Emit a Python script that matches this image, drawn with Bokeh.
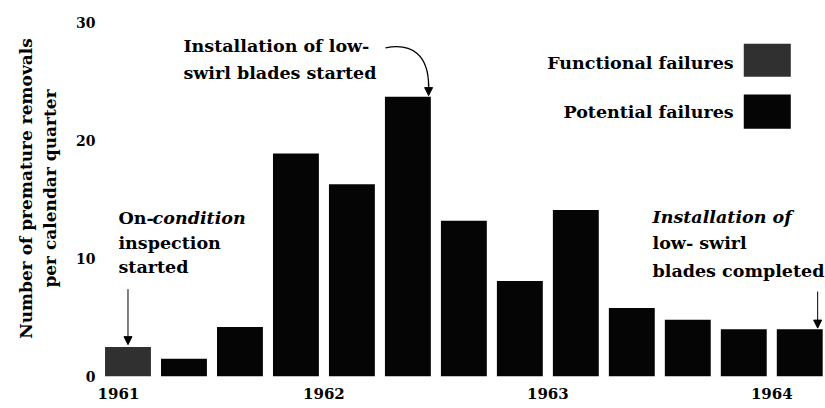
from bokeh.plotting import figure
from bokeh.models import FixedTicker, Range1d, Arrow, NormalHead
from bokeh.core.properties import value
from bokeh.embed import file_html
from bokeh.resources import INLINE

quarters = ["1961 Q1", "1961 Q2", "1961 Q3", "1961 Q4",
            "1962 Q1", "1962 Q2", "1962 Q3", "1962 Q4",
            "1963 Q1", "1963 Q2", "1963 Q3", "1963 Q4", "1964 Q1"]
functional = [2.5, 0, 0, 0, 0, 0, 0, 0, 0, 0, 0, 0, 0]
potential = [0, 1.5, 4.2, 18.9, 16.3, 23.7, 13.2, 8.1, 14.1, 5.8, 4.8, 4.0, 4.0]
year_labels = ["1961", "1962", "1963", "1964"]
year_ticks = [-0.17, 3.5, 7.5, 11.5]
y_ticks = [0, 10, 20, 30]

FONT = "DejaVu Serif"
idx = list(range(len(quarters)))
totals = [f + q for f, q in zip(functional, potential)]

p = figure(width=825, height=408, output_backend="svg", toolbar_location=None,
           x_range=Range1d(-0.491, 12.46), y_range=Range1d(0, 31.86),
           min_border_left=100, min_border_right=0, min_border_top=0, min_border_bottom=32)
p.outline_line_color = None
p.grid.grid_line_color = None
p.background_fill_color = "white"

p.vbar(x=idx, bottom=0, top=functional, width=0.82, fill_color="#303030", line_color=None)
p.vbar(x=idx, bottom=functional, top=totals, width=0.82, fill_color="#050505", line_color=None)

for ax in (p.xaxis[0], p.yaxis[0]):
    ax.axis_line_color = None
    ax.major_tick_line_color = None
    ax.minor_tick_line_color = None
    ax.major_tick_out = 0
    ax.major_tick_in = 0
    ax.minor_tick_out = 0
    ax.major_label_text_font = FONT
    ax.major_label_text_font_style = "bold"
    ax.major_label_text_color = "black"

p.xaxis.ticker = FixedTicker(ticks=year_ticks)
p.xaxis.major_label_overrides = {t: l for t, l in zip(year_ticks, year_labels)}
p.xaxis.major_label_text_font_size = "15px"
p.xaxis.major_label_standoff = 11

p.yaxis.ticker = FixedTicker(ticks=y_ticks)
p.yaxis.major_label_text_font_size = "14px"
p.yaxis.major_label_standoff = 5
p.yaxis.axis_label = "Number of premature removals\nper calendar quarter"
p.yaxis.axis_label_text_font = FONT
p.yaxis.axis_label_text_font_style = "bold"
p.yaxis.axis_label_text_font_size = "17px"
p.yaxis.axis_label_text_color = "black"
p.yaxis.axis_label_standoff = 13

def txt(x, y, s, style="bold", align="left"):
    p.text(x=[x], y=[y], text=[s], text_font=value(FONT), text_font_style=style,
           text_font_size="17.5px", text_align=align, text_baseline="middle", text_color="black")

head = lambda: NormalHead(size=8, fill_color="black", line_color="black")

# On-condition annotation
txt(-0.17, 13.4, "On-", "bold")
txt(0.44, 13.4, "condition", "bold italic")
txt(-0.17, 11.3, "inspection")
txt(-0.17, 9.3, "started")
p.add_layout(Arrow(end=head(), x_start=0.0, y_start=7.4, x_end=0.0, y_end=functional[0] + 0.2,
                   line_color="black", line_width=1))

# low-swirl started annotation
txt(0.99, 28.0, "Installation of low-")
txt(0.99, 25.7, "swirl blades started")
p.bezier(x0=[4.60], y0=[27.84], x1=[5.37], y1=[24.6], cx0=[5.08], cy0=[28.3], cx1=[5.37], cy1=[27.2],
         line_color="black", line_width=1.3)
p.add_layout(Arrow(end=head(), x_start=5.37, y_start=24.8, x_end=5.37, y_end=totals[5] + 0.1,
                   line_color="black", line_width=1.3))

# legend
txt(10.82, 26.6, "Functional failures", align="right")
txt(10.82, 22.4, "Potential failures", align="right")
p.quad(left=[11.0], right=[11.84], top=[28.2], bottom=[25.4], fill_color="#303030", line_color=None)
p.quad(left=[11.0], right=[11.84], top=[23.9], bottom=[21.0], fill_color="#050505", line_color=None)

# completed annotation
txt(9.37, 13.5, "Installation of", "bold italic")
txt(9.37, 11.3, "low- swirl")
txt(9.37, 8.9, "blades completed")
p.add_layout(Arrow(end=head(), x_start=12.32, y_start=7.2, x_end=12.32, y_end=totals[12] + 0.1,
                   line_color="black", line_width=1))

open("out.html", "w").write(file_html(p, INLINE))
